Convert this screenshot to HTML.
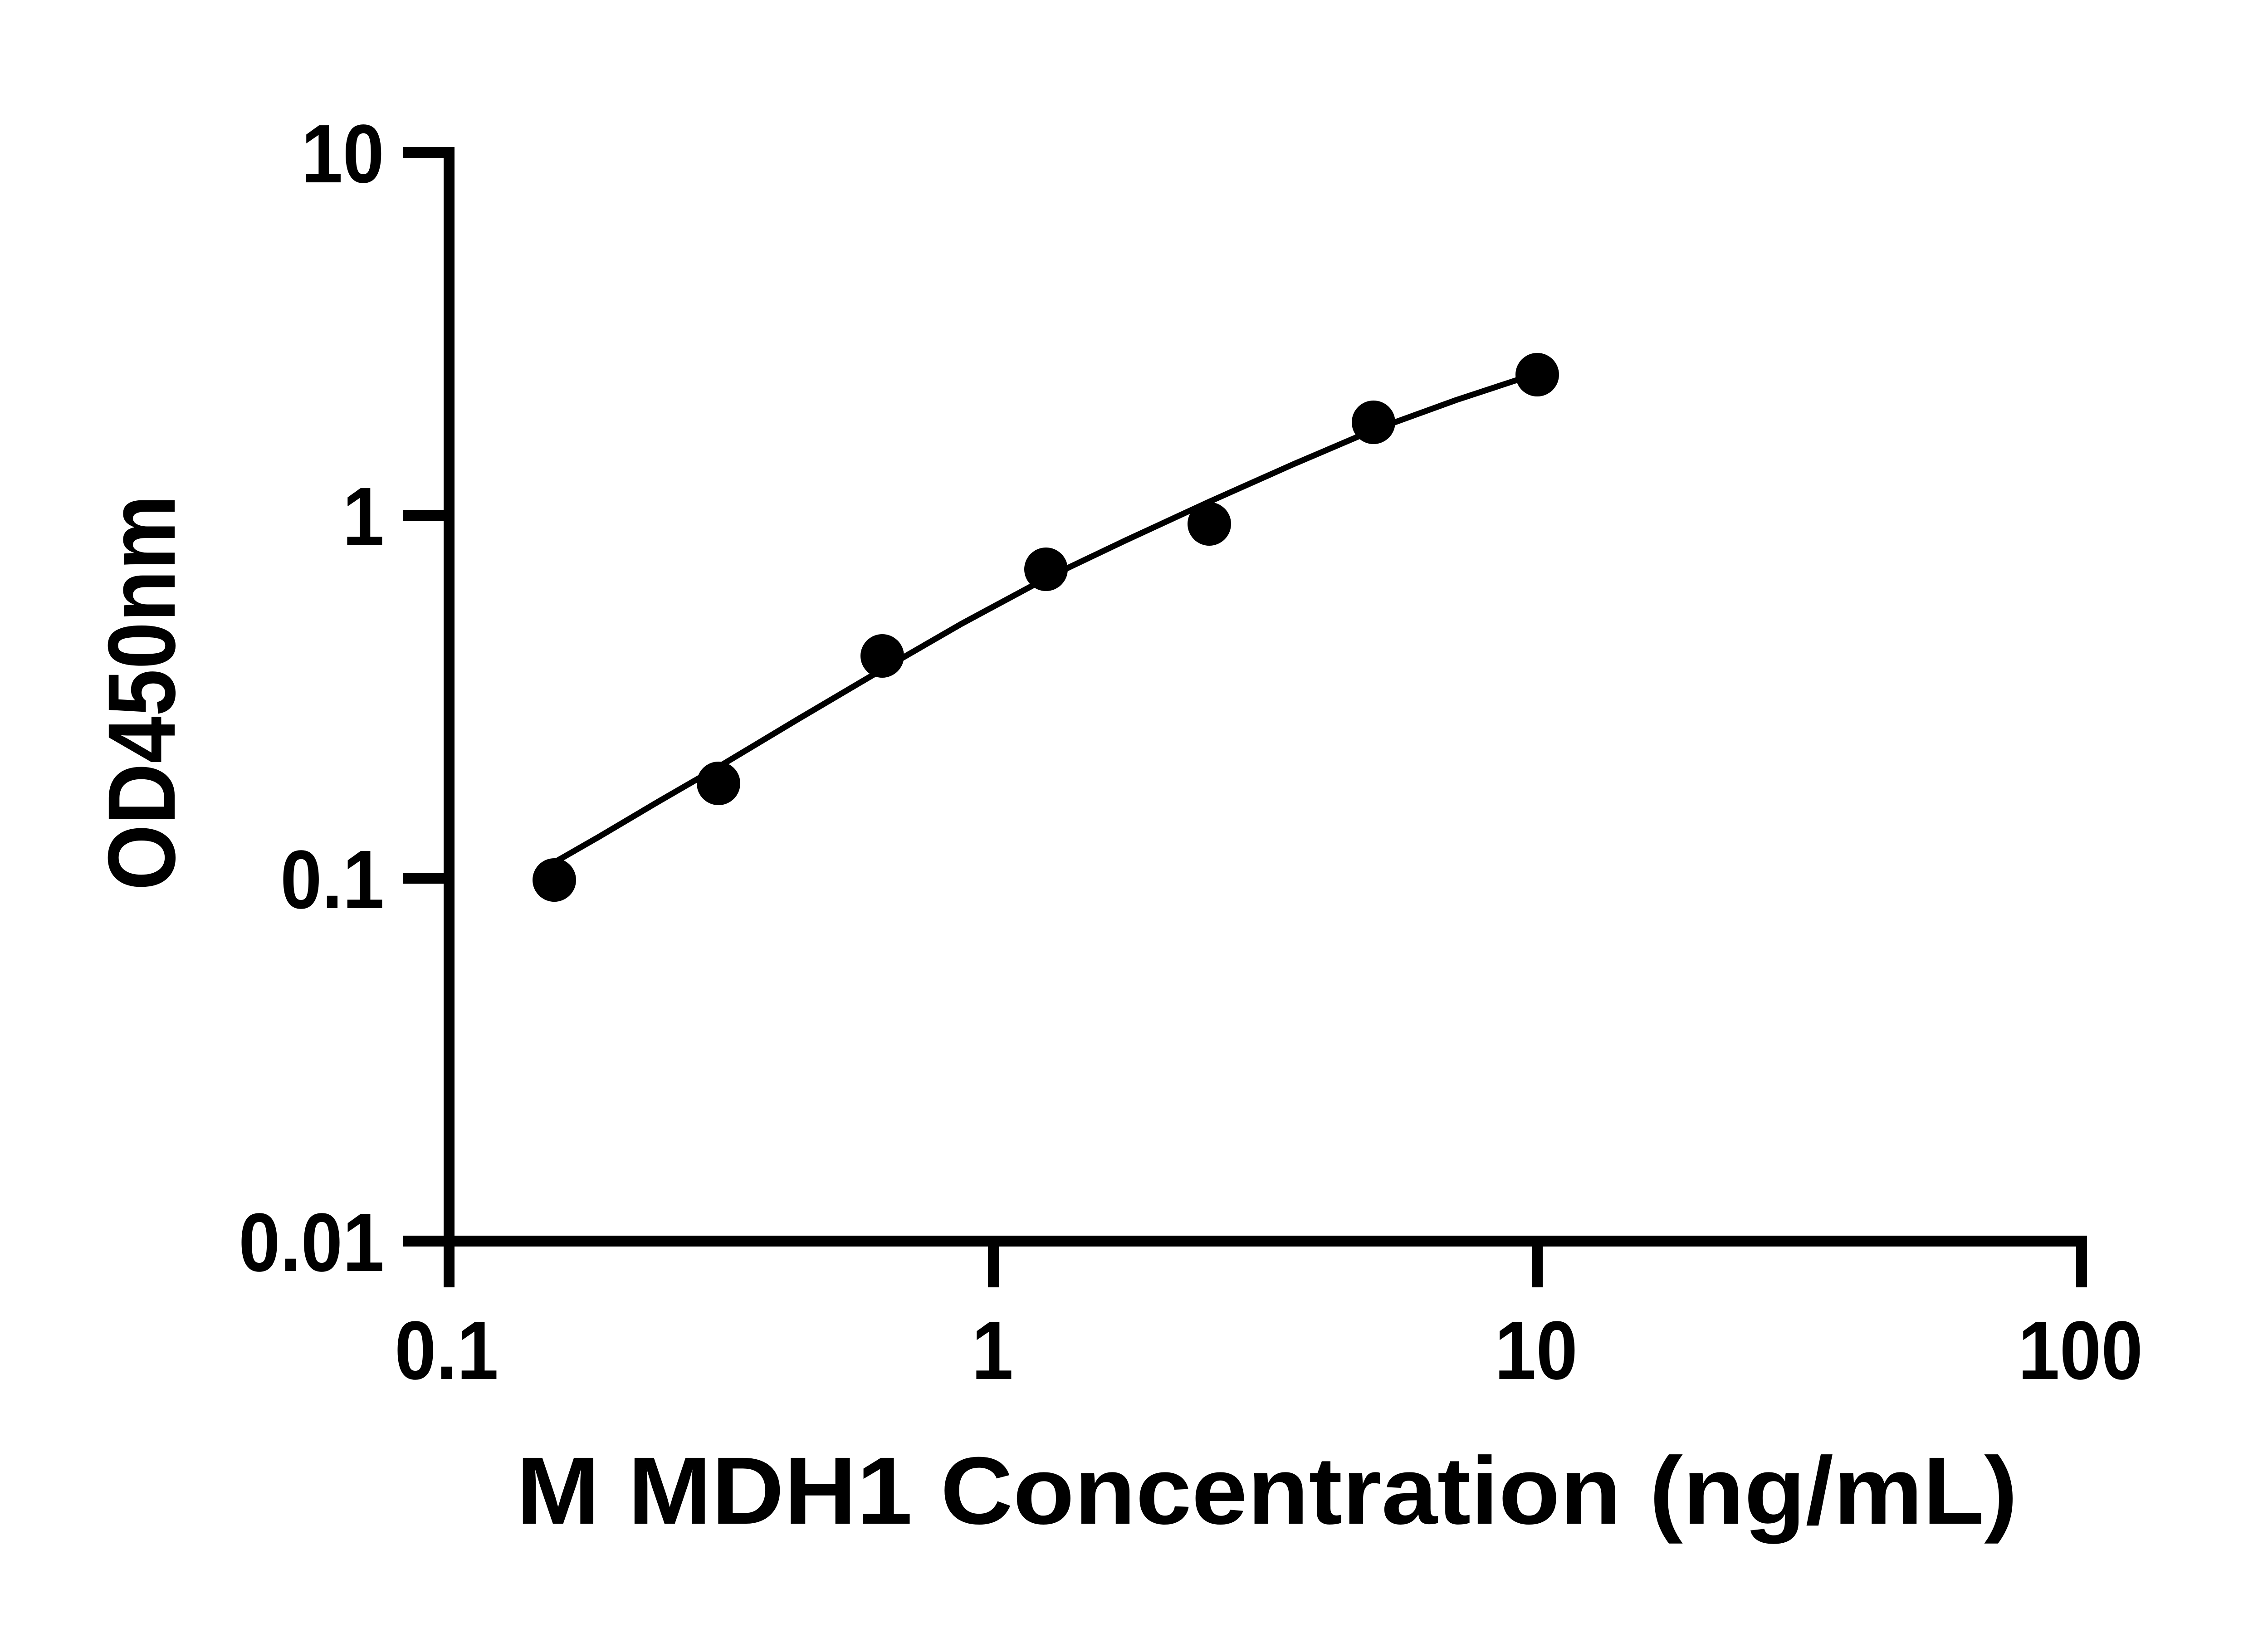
<!DOCTYPE html>
<html>
<head>
<meta charset="utf-8">
<style>
  html, body { margin: 0; padding: 0; background: #ffffff; }
  body { width: 5142px; height: 3600px; overflow: hidden; }
  svg { display: block; }
  text { font-family: "Liberation Sans", "DejaVu Sans", sans-serif; font-weight: bold; fill: #000; }
</style>
</head>
<body>
<svg width="5142" height="3600" viewBox="0 0 5142 3600" xmlns="http://www.w3.org/2000/svg">
  <rect x="0" y="0" width="5142" height="3600" fill="#ffffff"/>

  <!-- Axes -->
  <g stroke="#000" stroke-width="24" fill="none" stroke-linecap="butt">
    <!-- Y axis -->
    <line x1="990" y1="324" x2="990" y2="2838"/>
    <!-- X axis -->
    <line x1="888" y1="2736" x2="4601" y2="2736"/>
    <!-- Y ticks -->
    <line x1="888" y1="336" x2="990" y2="336"/>
    <line x1="888" y1="1136" x2="990" y2="1136"/>
    <line x1="888" y1="1936" x2="990" y2="1936"/>
    <line x1="888" y1="2736" x2="990" y2="2736"/>
    <!-- X ticks -->
    <line x1="2190" y1="2736" x2="2190" y2="2838"/>
    <line x1="3389" y1="2736" x2="3389" y2="2838"/>
    <line x1="4589" y1="2736" x2="4589" y2="2838"/>
  </g>

  <!-- Y tick labels -->
  <g font-size="183">
    <text x="664" y="402" textLength="183" lengthAdjust="spacingAndGlyphs">10</text>
    <text x="755" y="1202" textLength="92" lengthAdjust="spacingAndGlyphs">1</text>
    <text x="618" y="2002" textLength="229" lengthAdjust="spacingAndGlyphs">0.1</text>
    <text x="526" y="2802" textLength="321" lengthAdjust="spacingAndGlyphs">0.01</text>
  </g>

  <!-- X tick labels -->
  <g font-size="183">
    <text x="870" y="3040" textLength="229" lengthAdjust="spacingAndGlyphs">0.1</text>
    <text x="2142" y="3040" textLength="92" lengthAdjust="spacingAndGlyphs">1</text>
    <text x="3295" y="3040" textLength="183" lengthAdjust="spacingAndGlyphs">10</text>
    <text x="4449" y="3040" textLength="275" lengthAdjust="spacingAndGlyphs">100</text>
  </g>

  <!-- Fitted curve -->
  <polyline fill="none" stroke="#000" stroke-width="13" stroke-linejoin="round" stroke-linecap="round"
    points="1224,1900 1320,1845 1450,1768 1585,1690 1760,1585 1945,1476 2120,1375 2306,1275 2480,1192 2666,1106 2850,1024 3028,948 3210,882 3389,823"/>

  <!-- Data points -->
  <g fill="#000">
    <circle cx="1222" cy="1940" r="48"/>
    <circle cx="1584" cy="1727" r="48"/>
    <circle cx="1945" cy="1446" r="48"/>
    <circle cx="2306" cy="1255" r="48"/>
    <circle cx="2666" cy="1155" r="48"/>
    <circle cx="3028" cy="931" r="48"/>
    <circle cx="3389" cy="826" r="48"/>
  </g>

  <!-- Axis titles -->
  <text x="1138" y="3359" font-size="211" textLength="3310" lengthAdjust="spacingAndGlyphs">M MDH1 Concentration (ng/mL)</text>
  <text transform="translate(385,1963) rotate(-90)" x="0" y="0" font-size="211" textLength="872" lengthAdjust="spacingAndGlyphs">OD450nm</text>
</svg>
</body>
</html>
